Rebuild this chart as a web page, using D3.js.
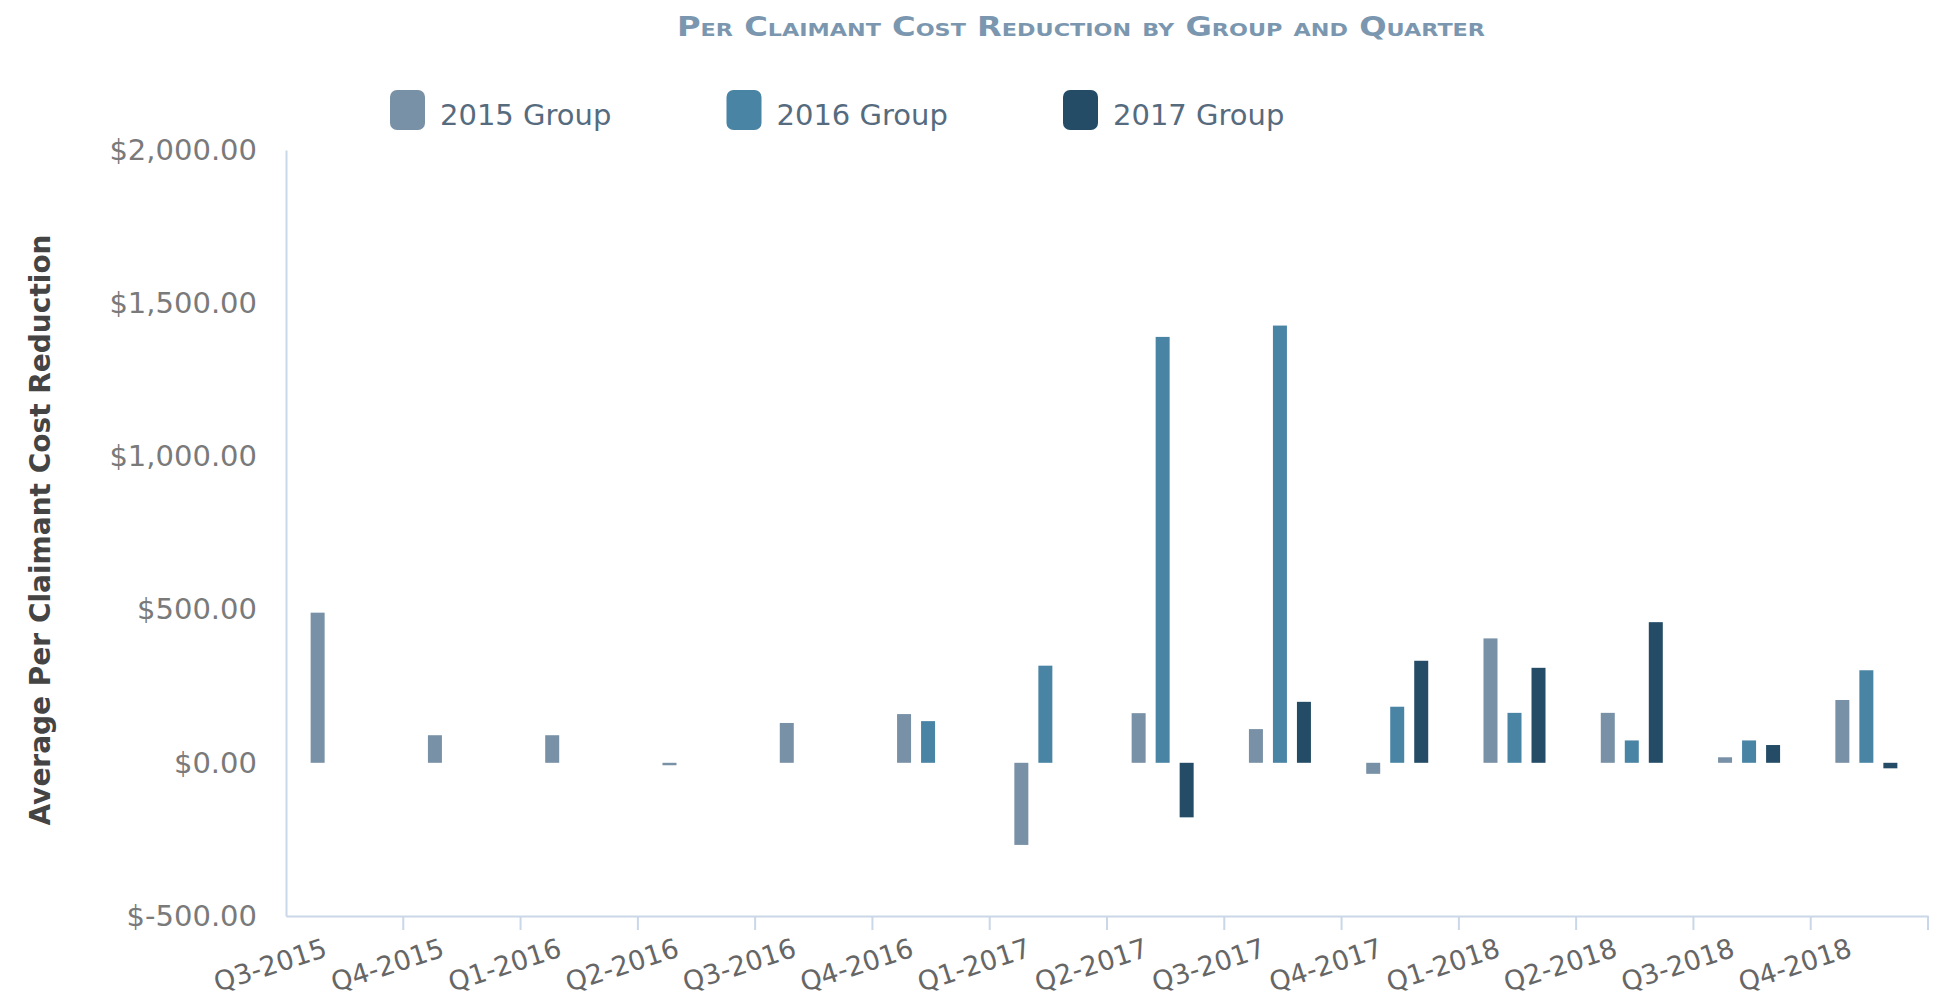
<!DOCTYPE html>
<html>
<head>
<meta charset="utf-8">
<script src="https://cdn.jsdelivr.net/npm/d3@7"></script>
<style>
  body { margin: 0; background: #fff; }
  text { font-family: "DejaVu Sans", Verdana, sans-serif; }
</style>
</head>
<body>
<script>
// quarters on the x axis
const quarters = ["Q3-2015", "Q4-2015", "Q1-2016", "Q2-2016", "Q3-2016", "Q4-2016", "Q1-2017",
  "Q2-2017", "Q3-2017", "Q4-2017", "Q1-2018", "Q2-2018", "Q3-2018", "Q4-2018"]
const groups = ["2015 Group", "2016 Group", "2017 Group"]
const colors = ["#7891a6", "#4a84a5", "#244c66"]

// average per claimant cost reduction (null = no bar)
const group2015 = [490, 90, 90, -8, 130, 159, -268, 162, 110, -36, 406, 163, 18, 205]
const group2016 = [null, null, null, null, null, 136, 317, 1390, 1427, 183, 163, 73, 73, 302]
const group2017 = [null, null, null, null, null, null, null, -178, 199, 333, 310, 459, 58, -18]
const yTicks = [-500, 0, 500, 1000, 1500, 2000]

const W = 1940, H = 1000
const margin = {top: 150, right: 12, bottom: 84, left: 286}

let svg = d3.select("body").append("svg").attr("width", W).attr("height", H)

let x0 = d3.scaleBand().domain(quarters).range([margin.left, W - margin.right]).padding(0)
let y = d3.scaleLinear().domain([-500, 2000]).range([H - margin.bottom, margin.top])

let bw = x0.bandwidth()
//bars of a quarter sit slightly left of the band centre
let x1 = d3.scaleBand().domain(groups).range([bw / 2 - 39, bw / 2 + 33]).paddingInner(0.417).paddingOuter(0.208)

const fmt = d3.formatLocale({decimal: ".", thousands: ",", grouping: [3], currency: ["$", ""], minus: "-"}).format(",.2f")

// title
svg.append("text")
  .attr("x", 1081).attr("y", 36)
  .attr("text-anchor", "middle")
  .attr("font-weight", "bold")
  .attr("font-size", "26px")
  .attr("font-variant", "small-caps")
  .attr("fill", "#7b97b0")
  .attr("textLength", 808).attr("lengthAdjust", "spacingAndGlyphs")
  .text("Per Claimant Cost Reduction by Group and Quarter")

// legend
let legend = svg.append("g").selectAll("g").data(groups).join("g")
  .attr("transform", (d, i) => "translate(" + (390 + i * 336.5) + ",90)")
legend.append("rect")
  .attr("width", 35).attr("height", 40).attr("rx", 7)
  .attr("fill", (d, i) => colors[i])
legend.append("text")
  .attr("x", 50).attr("y", 35)
  .attr("font-size", "29px")
  .attr("fill", "#566b7e")
  .text(d => d)

// y axis
let yAxis = svg.append("g")
  .attr("transform", "translate(" + margin.left + ",0)")
  .call(d3.axisLeft(y).tickValues(yTicks).tickSize(0).tickPadding(29).tickFormat(d => "$" + fmt(d)))
yAxis.select(".domain").attr("stroke", "#c9d7e8").attr("stroke-width", 2)
yAxis.selectAll("text").attr("font-size", "29px").attr("fill", "#7a7a7a").attr("font-family", "DejaVu Sans")

svg.append("text")
  .attr("transform", "translate(40," + ((margin.top + H - margin.bottom) / 2 - 3) + ") rotate(-90)")
  .attr("text-anchor", "middle")
  .attr("dy", "0.35em")
  .attr("font-weight", "bold")
  .attr("font-size", "28px")
  .attr("fill", "#444")
  .text("Average Per Claimant Cost Reduction")

// x axis
let xAxis = svg.append("g")
  .attr("transform", "translate(0," + (H - margin.bottom) + ")")
  .call(d3.axisBottom(x0).tickSize(0).tickSizeOuter(0))
xAxis.select(".domain").attr("stroke", "#c9d7e8").attr("stroke-width", 2)
xAxis.selectAll(".tick text")
  .attr("font-size", "27px")
  .attr("fill", "#666")
  .attr("font-family", "DejaVu Sans")
  .attr("text-anchor", "end")
  .attr("dy", null)
  .attr("y", null)
  .attr("transform", "translate(-16,40) rotate(-18)")

// tick marks on the band boundaries
xAxis.selectAll(".bound").data(quarters).join("line")
  .attr("class", "bound")
  .attr("x1", d => x0(d) + x0.step()).attr("x2", d => x0(d) + x0.step())
  .attr("y1", 0).attr("y2", 14)
  .attr("stroke", "#c9d7e8").attr("stroke-width", 2)

// bars
const series = [group2015, group2016, group2017]
series.forEach((vals, gi) => {
  const data = quarters.map((q, i) => ({q, v: vals[i]})).filter(d => d.v != null)
  svg.append("g").selectAll("rect").data(data).join("rect")
    .attr("x", d => x0(d.q) + x1(groups[gi]))
    .attr("width", x1.bandwidth())
    .attr("y", d => y(Math.max(0, d.v)))
    .attr("height", d => Math.abs(y(d.v) - y(0)))
    .attr("fill", colors[gi])
})
</script>
</body>
</html>
